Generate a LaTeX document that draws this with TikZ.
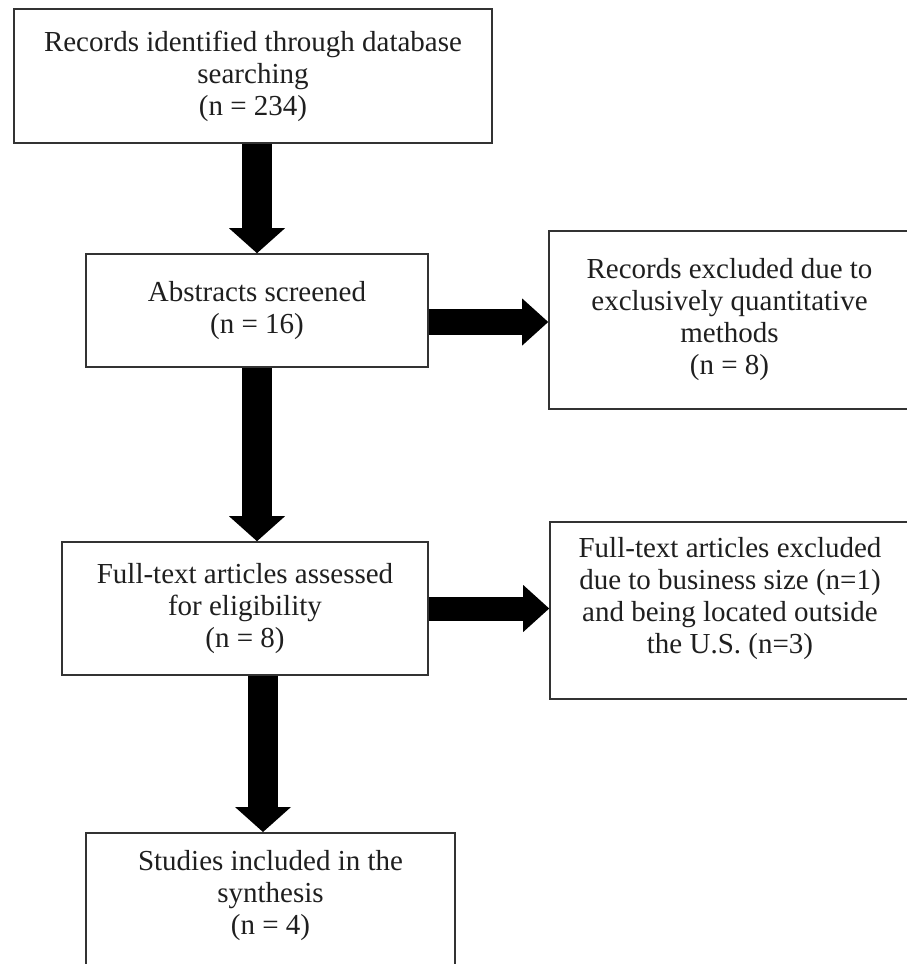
\documentclass[tikz,border=0pt]{standalone}
\usepackage{fontspec}
\setmainfont{Liberation Serif}
\usetikzlibrary{arrows.meta,calc}
\begin{document}
\begin{tikzpicture}[x=1pt,y=-1pt,
  boxtext/.style={align=center, font=\fontsize{29}{32}\selectfont, text=black!88},
  box/.style={boxtext, draw=black!80, line width=1.6pt, fill=white, inner sep=0pt},
  txt/.style={boxtext, inner sep=0pt},
  vflow/.style={line width=30pt, draw=black,
    -{Triangle[width=56pt,length=25pt,line width=0pt]}},
  hflow/.style={line width=#1, draw=black,
    -{Triangle[width=47pt,length=26pt,line width=0pt]}},
  hflow/.default=26pt,
]
% page frame
\path[use as bounding box] (0,0) rectangle (907,964);
\clip (0,0) rectangle (907,964);

% main column
\node[box, minimum width=478pt, minimum height=134pt] (b1) at (253,76)
  {Records identified through database\\ searching\\ (n = 234)};
\node[box, minimum width=342pt, minimum height=113pt] (b2) at (257,310.5)
  {Abstracts screened\\ (n = 16)};
\node[box, minimum width=366pt, minimum height=133pt] (b4) at (245,608.5)
  {Full-text articles assessed\\ for eligibility\\ (n = 8)};
\node[box, minimum width=369pt, minimum height=170pt, anchor=north] (b6) at (270.5,832) {};
\node[txt] (t6) at (270.5,896) {Studies included in the\\ synthesis\\ (n = 4)};

% exclusion column
\node[box, minimum width=361pt, minimum height=178pt] (b3) at (729.5,320)
  {Records excluded due to\\ exclusively quantitative\\ methods\\ (n = 8)};
\node[box, minimum width=360pt, minimum height=177pt] (b5) at (730,610.5) {};
\node[txt] (t5) at (730,599)
  {Full-text articles excluded\\ due to business size (n=1)\\ and being located outside\\ the U.S. (n=3)};

% flow arrows
\draw[vflow] (b1.south -| b2.north) -- (b2.north);
\draw[vflow] (b2.south) -- (b2.south |- b4.north);
\draw[vflow] ([xshift=18pt]b4.south) -- ([xshift=18pt]b4.south |- b6.north);
\draw[hflow] ([yshift=-11.5pt]b2.east) -- ([yshift=-11.5pt]b2.east -| b3.west);
\draw[hflow=24pt] (b4.east) -- (b4.east -| b5.west);
\end{tikzpicture}
\end{document}
